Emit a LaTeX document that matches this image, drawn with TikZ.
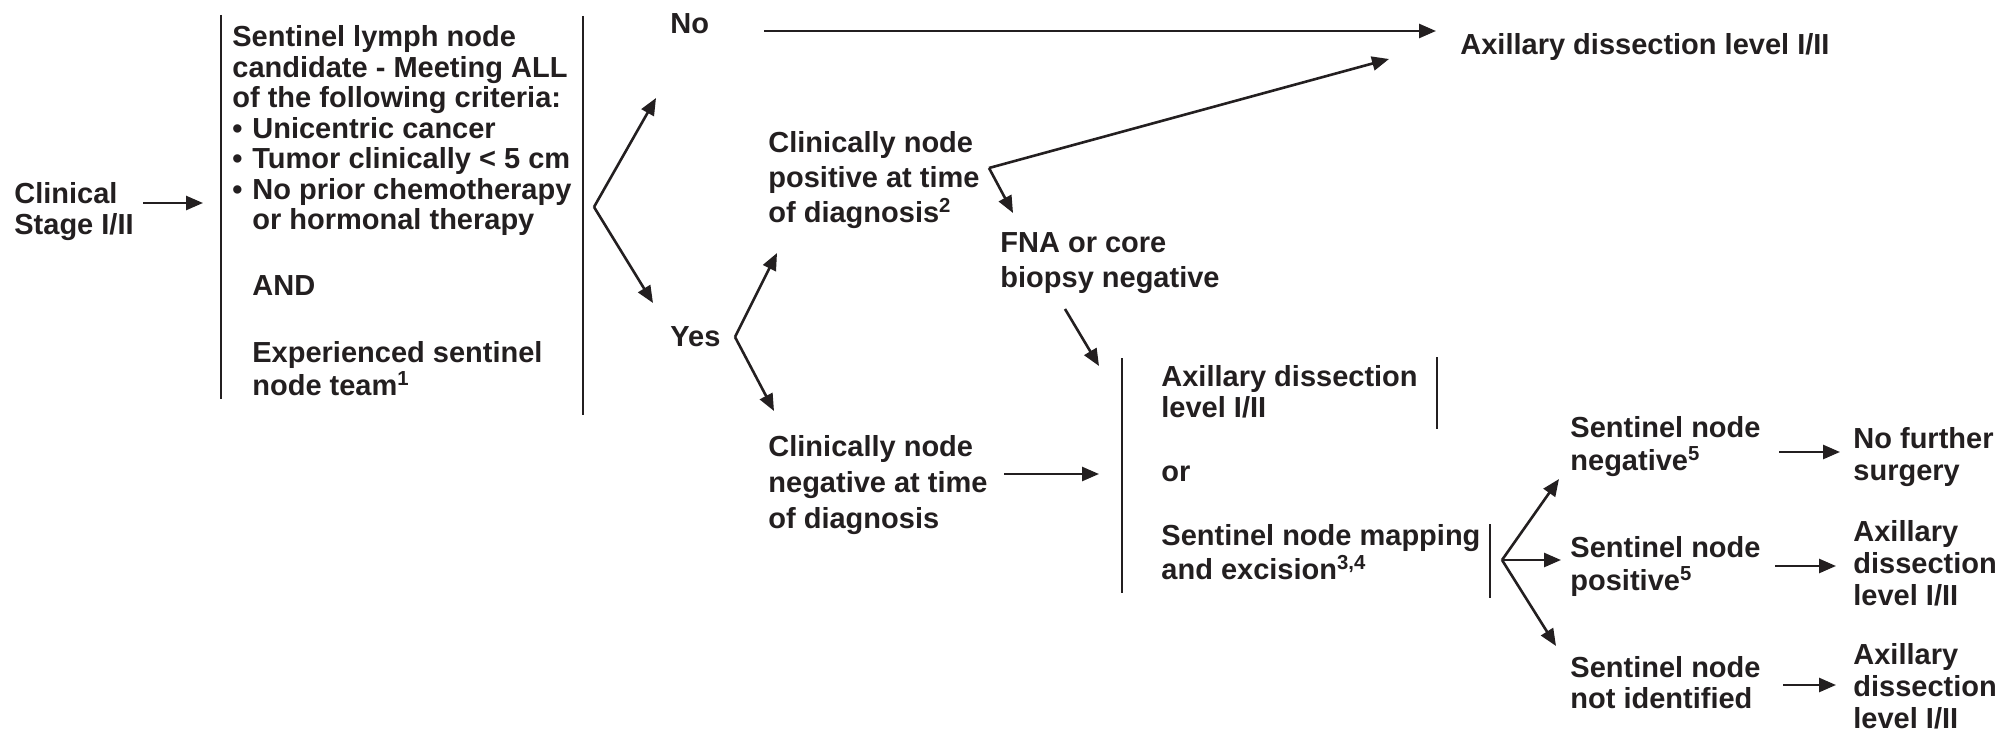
\documentclass[tikz,border=0pt]{standalone}
\usepackage{fontspec}
\setmainfont{Liberation Sans}
\usetikzlibrary{arrows.meta}
\definecolor{ink}{HTML}{231F20}
\newcommand\bul{\makebox[10pt][l]{\textbullet}}
\newcommand\ind{\hspace*{10pt}}
% left-aligned block whose baseline is that of its first line
\newcommand\blk[1]{\begin{tabular}[t]{@{}l@{}}#1\end{tabular}}
\begin{document}
\begin{tikzpicture}[x=0.5pt,y=-0.5pt,
  txt/.style={anchor=base west, inner sep=0pt, text=ink},
  lh/.style={font=\fontsize{14.5pt}{#1}\selectfont\bfseries},
  arr/.style={draw=ink, line width=1.3pt, -{Triangle[length=8.5pt,width=7pt]}},
  bar/.style={draw=ink, line width=1.3pt}]
\useasboundingbox (0,0) rectangle (2000,733);

% ---- text blocks ----
\node[txt, lh=15.5pt] (clin) at (14,203) {\blk{Clinical\\Stage I/II}};
\node[txt, lh=15.2pt] (crit) at (232,47) {\blk{Sentinel lymph node\\candidate - Meeting ALL\\of the following criteria:\\\bul Unicentric cancer\\\bul Tumor clinically < 5 cm\\\bul No prior chemotherapy\\\ind or hormonal therapy\\[18pt]\ind AND\\[18pt]\ind Experienced sentinel\\\ind node team\textsuperscript{1}}};
\node[txt, lh=17.5pt] (no) at (670,34) {No};
\node[txt, lh=17.5pt] (yes) at (670,346) {Yes};
\node[txt, lh=17.5pt] (axtop) at (1460,55) {Axillary dissection level I/II};
\node[txt, lh=17.7pt] (cpos) at (768,152) {\blk{Clinically node\\positive at time\\of diagnosis\textsuperscript{2}}};
\node[txt, lh=17.5pt] (fna) at (1000,252) {\blk{FNA or core\\biopsy negative}};
\node[txt, lh=18pt] (cneg) at (768,456) {\blk{Clinically node\\negative at time\\of diagnosis}};
\node[txt, lh=15.5pt] (axor) at (1161,386) {\blk{Axillary dissection\\level I/II}};
\node[txt, lh=15.5pt] (or) at (1161,481) {or};
\node[txt, lh=16.5pt] (map) at (1161,545) {\blk{Sentinel node mapping\\and excision\textsuperscript{3,4}}};
\node[txt, lh=15.5pt] (sneg) at (1570,437) {\blk{Sentinel node\\negative\textsuperscript{5}}};
\node[txt, lh=15.5pt] (spos) at (1570,557) {\blk{Sentinel node\\positive\textsuperscript{5}}};
\node[txt, lh=15.5pt] (snot) at (1570,677) {\blk{Sentinel node\\not identified}};
\node[txt, lh=16pt] (nofur) at (1853,448) {\blk{No further\\surgery}};
\node[txt, lh=16pt] (axmid) at (1853,541) {\blk{Axillary\\dissection\\level I/II}};
\node[txt, lh=16pt] (axbot) at (1853,664) {\blk{Axillary\\dissection\\level I/II}};

% ---- bracket bars ----
\draw[bar] (221,15) -- (221,399);
\draw[bar] (583,16) -- (583,415);
\draw[bar] (1122,358) -- (1122,593);
\draw[bar] (1437,357) -- (1437,429);
\draw[bar] (1490,524) -- (1490,598);

% ---- connector points ----
\coordinate (a1) at (143,203);  \coordinate (a2) at (203,203);
\coordinate (f1) at (594,207);  \coordinate (f1u) at (656,98);   \coordinate (f1d) at (653,303);
\coordinate (n1) at (764,31);   \coordinate (n2) at (1436,31);
\coordinate (f2) at (735,337);  \coordinate (f2u) at (777,253);  \coordinate (f2d) at (774,411);
\coordinate (f3) at (989,168);  \coordinate (f3u) at (1389,59);  \coordinate (f3d) at (1013,213);
\coordinate (b1) at (1065,309); \coordinate (b2) at (1099,366);
\coordinate (g1) at (1004,474); \coordinate (g2) at (1099,474);
\coordinate (f4) at (1502,560); \coordinate (f4u) at (1559,479); \coordinate (f4m) at (1561,560); \coordinate (f4d) at (1556,646);
\coordinate (r1) at (1779,452); \coordinate (r1e) at (1840,452);
\coordinate (r2) at (1775,566); \coordinate (r2e) at (1836,566);
\coordinate (r3) at (1783,685); \coordinate (r3e) at (1836,685);

% ---- arrows ----
\draw[arr] (a1) -- (a2);
\draw[arr] (f1) -- (f1u);
\draw[arr] (f1) -- (f1d);
\draw[arr] (n1) -- (n2);
\draw[arr] (f2) -- (f2u);
\draw[arr] (f2) -- (f2d);
\draw[arr] (f3) -- (f3u);
\draw[arr] (f3) -- (f3d);
\draw[arr] (b1) -- (b2);
\draw[arr] (g1) -- (g2);
\draw[arr] (f4) -- (f4u);
\draw[arr] (f4) -- (f4m);
\draw[arr] (f4) -- (f4d);
\draw[arr] (r1) -- (r1e);
\draw[arr] (r2) -- (r2e);
\draw[arr] (r3) -- (r3e);
\end{tikzpicture}
\end{document}
